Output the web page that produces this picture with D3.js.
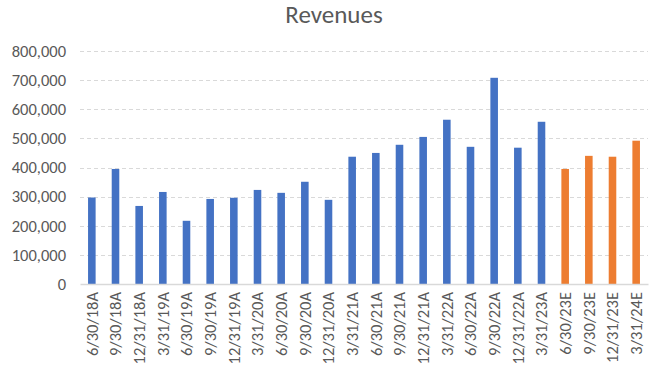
<!DOCTYPE html>
<html>
<head>
<meta charset="utf-8">
<script src="https://cdn.jsdelivr.net/npm/d3@7"></script>
<style>
  body { margin: 0; background: #fff; }
  text { font-family: Calibri, Carlito, "Liberation Sans", Arial, sans-serif; fill: #595959; }
</style>
</head>
<body>
<div id="chart"></div>
<script>
// quarter labels, A = actual, E = estimate
var quarters = ["6/30/18A", "9/30/18A", "12/31/18A", "3/31/19A", "6/30/19A", "9/30/19A",
    "12/31/19A", "3/31/20A", "6/30/20A", "9/30/20A", "12/31/20A", "3/31/21A", "6/30/21A",
    "9/30/21A", "12/31/21A", "3/31/22A", "6/30/22A", "9/30/22A", "12/31/22A", "3/31/23A",
    "6/30/23E", "9/30/23E", "12/31/23E", "3/31/24E"];
var revenues = [297000, 395000, 268000, 316000, 217000, 292000, 296000, 323000, 313000,
    351000, 289000, 437000, 450000, 478000, 505000, 564000, 471000, 708000, 468000, 557000,
    395000, 440000, 437000, 492000];
var yTicks = [0, 100000, 200000, 300000, 400000, 500000, 600000, 700000, 800000];

var width = 663, height = 375;
var margin = {top: 51, right: 15, bottom: 91, left: 80};

var svg = d3.select("#chart").append("svg")
    .attr("width", width)
    .attr("height", height);

var x = d3.scaleBand()
    .domain(quarters)
    .range([margin.left, width - margin.right])
    .paddingInner(0.68)
    .paddingOuter(0.34);

var y = d3.scaleLinear()
    .domain([0, 800000])
    .range([height - margin.bottom, margin.top]);

// title
svg.append("text")
    .attr("x", 334)
    .attr("y", 23)
    .attr("text-anchor", "middle")
    .style("font-size", "25px")
    .text("Revenues");

// gridlines
svg.append("g")
    .selectAll("line")
    .data(yTicks.slice(1))
    .enter().append("line")
    .attr("x1", margin.left)
    .attr("x2", width - margin.right)
    .attr("y1", function(d){ return Math.round(y(d)) + 0.5; })
    .attr("y2", function(d){ return Math.round(y(d)) + 0.5; })
    .attr("stroke", "#d9d9d9")
    .attr("stroke-width", 1)
    .attr("stroke-dasharray", "4,3");

// y axis labels
var yAxis = svg.append("g")
    .attr("transform", "translate(" + margin.left + ",0)")
    .call(d3.axisLeft(y).tickValues(yTicks).tickSize(0).tickPadding(14)
        .tickFormat(function(d){ return d === 0 ? "0" : d3.format(",")(d); }));
yAxis.select(".domain").remove();
yAxis.selectAll("text").style("font-size", "16.5px").style("fill", "#595959")
    .style("font-family", "Calibri, Carlito, 'Liberation Sans', Arial, sans-serif");

// bars
svg.append("g")
    .selectAll("rect")
    .data(revenues)
    .enter().append("rect")
    .attr("x", function(d, i){ return x(quarters[i]); })
    .attr("width", x.bandwidth())
    .attr("y", function(d){ return y(d); })
    .attr("height", function(d){ return y(0) - y(d); })
    .attr("fill", function(d, i){ return quarters[i].slice(-1) === "E" ? "#ED7D31" : "#4472C4"; });

// x axis
var xAxis = svg.append("g")
    .attr("transform", "translate(0," + y(0) + ")")
    .call(d3.axisBottom(x).tickSize(0).tickPadding(8));
xAxis.select(".domain").attr("stroke", "#d9d9d9").attr("stroke-width", 1.5);
xAxis.selectAll("text")
    .attr("transform", "rotate(-90)")
    .attr("text-anchor", "end")
    .attr("x", -8)
    .attr("y", 0)
    .attr("dy", "0.35em")
    .style("font-size", "16.5px")
    .style("fill", "#595959")
    .style("font-family", "Calibri, Carlito, 'Liberation Sans', Arial, sans-serif");
</script>
</body>
</html>
